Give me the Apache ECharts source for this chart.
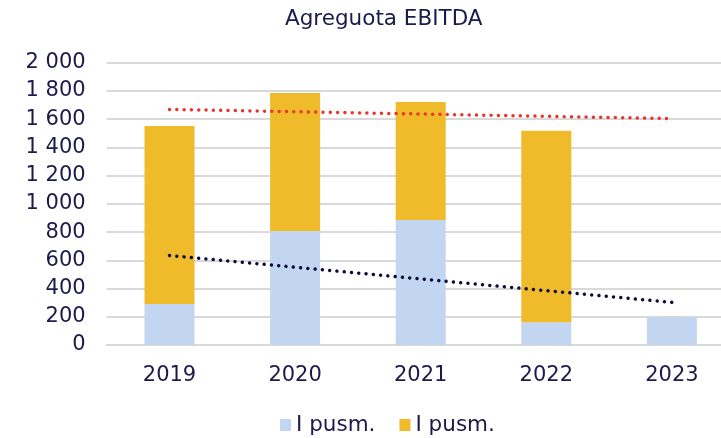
<!DOCTYPE html>
<html>
<head>
<meta charset="utf-8">
<script src="https://cdn.jsdelivr.net/npm/echarts@6/dist/echarts.min.js"></script>
<style>html,body{margin:0;padding:0;background:#fff;overflow:hidden;}#c{width:721px;height:438px;}</style>
</head>
<body>
<div id="c"></div>
<script>
const categories = ['2019', '2020', '2021', '2022', '2023'];
const seriesBlue = [290, 808, 886, 161, 196];
const seriesYellow = [1261, 977, 836, 1357, null];
const trendRed = [1669, null, null, null, 1604];
const trendBlack = [634, null, null, null, 302];
const legendNames = ['I pusm.', 'I pusm.'];
const titleText = 'Agreguota EBITDA';

const textColor = '#1b1b4b';
const font = 'DejaVu Sans';
const chart = echarts.init(document.getElementById('c'), null, {renderer: 'canvas'});
chart.setOption({
  animation: false,
  title: {
    text: titleText, left: 285, top: 8, padding: 0,
    textStyle: {fontFamily: font, fontSize: 21.5, fontWeight: 'normal', color: textColor}
  },
  legend: {
    data: ['s0', 's1'], bottom: 2, left: 280, padding: 0, itemWidth: 11, itemHeight: 12, itemGap: 24,
    icon: 'rect',
    formatter: function (n) { return n === 's0' ? legendNames[0] : legendNames[1]; },
    textStyle: {fontFamily: font, fontSize: 21.5, color: textColor}
  },
  grid: {left: 106.7, width: 628, top: 62.7, bottom: 93, containLabel: false, outerBoundsMode: 'none'},
  xAxis: {
    type: 'category', data: categories,
    axisLine: {show: true, lineStyle: {color: '#d9d9d9', width: 2}},
    axisTick: {show: false},
    axisLabel: {fontFamily: font, fontSize: 21, color: textColor, margin: 20}
  },
  yAxis: {
    type: 'value', min: 0, max: 2000, interval: 200,
    axisLine: {show: false}, axisTick: {show: false},
    splitLine: {lineStyle: {color: '#d9d9d9', width: 2}},
    axisLabel: {
      fontFamily: font, fontSize: 21, color: textColor, margin: 21,
      formatter: function (v) { return String(v).replace(/\B(?=(\d{3})+(?!\d))/g, ' '); }
    }
  },
  series: [
    {name: 's0', type: 'bar', stack: 't', data: seriesBlue, barWidth: 50, itemStyle: {color: '#c2d5f1'}},
    {name: 's1', type: 'bar', stack: 't', data: seriesYellow, barWidth: 50, itemStyle: {color: '#efbb2a'}},
    {name: 'tr', type: 'line', data: trendRed, connectNulls: true, symbol: 'none', z: 5,
      lineStyle: {color: '#e8352a', width: 3.5, type: [0.01, 7.3], cap: 'round'}},
    {name: 'tb', type: 'line', data: trendBlack, connectNulls: true, symbol: 'none', z: 5,
      lineStyle: {color: '#0c0c3c', width: 3.5, type: [0.01, 7.3], cap: 'round'}}
  ]
});
</script>
</body>
</html>
